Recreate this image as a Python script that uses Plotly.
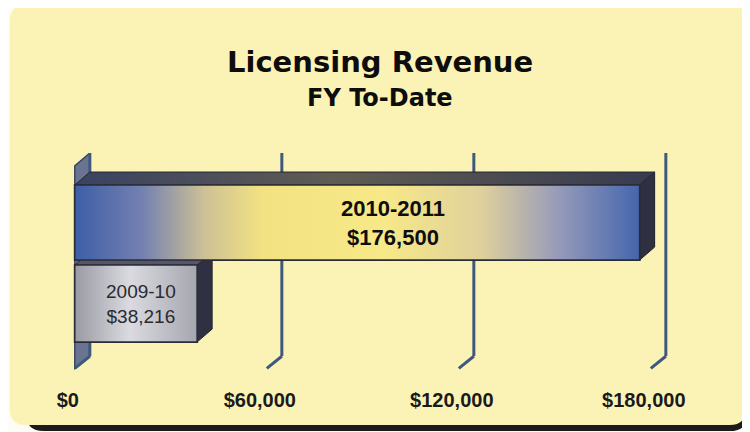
import plotly.graph_objects as go

# ---- data ----
categories = ["2009-10", "2010-2011"]
values = [38216, 176500]
tick_vals = [0, 60000, 120000, 180000]
tick_text = ["$0", "$60,000", "$120,000", "$180,000"]
title_text = "Licensing Revenue"
subtitle_text = "FY To-Date"

# page body has an 8px margin; figure sized to the visible area
OFF = 8
W, H = 742, 424
L_m, R_m, T_m, B_m = 54.2, 47.8, 145, 62
PW, PH = W - L_m - R_m, H - T_m - B_m

bar_widths = [0.95, 0.926]
ypos = [0, 1]
y_range = [-0.82, 1.858]
x_range = [-4000, 196000]
depth_x, depth_y = 4700, 0.16   # 3D projection offsets


def px(xr):  # reference window pixel -> paper
    return (xr - OFF - L_m) / PW


def py(yr):
    return (H - B_m - (yr - OFF)) / PH


fig = go.Figure()

# base bars (data marks)
fig.add_trace(go.Bar(
    y=ypos, x=values, orientation="h", width=bar_widths,
    marker=dict(color=["#b4b4be", "#5a74ad"], line=dict(color="#2b2c36", width=2)),
    hoverinfo="x+text", text=categories, textposition="none", showlegend=False,
))

# 3D side and top faces, derived from values
for i, (v, w, y) in enumerate(zip(values, bar_widths, ypos)):
    y0, y1 = y - w / 2, y + w / 2
    fig.add_trace(go.Scatter(
        x=[v, v + depth_x, v + depth_x, v, v], y=[y0, y0 + depth_y, y1 + depth_y, y1, y0],
        fill="toself", fillcolor="#2f3142", line=dict(color="#1f2029", width=1),
        mode="lines", hoverinfo="skip", showlegend=False))
    top = dict(x=[0, depth_x, v + depth_x, v, 0], y=[y1, y1 + depth_y, y1 + depth_y, y1, y1],
               fill="toself", line=dict(color="#25262f", width=1),
               mode="lines", hoverinfo="skip", showlegend=False)
    if i == 1:
        top["fillgradient"] = dict(type="horizontal",
                                   colorscale=[[0, "#3a4262"], [0.45, "#5f5c52"], [1, "#383b50"]])
    else:
        top["fillcolor"] = "#55566a"
    fig.add_trace(go.Scatter(**top))

# gradient front faces
grad_big = [[0, "#3d5ea8"], [0.12, "#7481b0"], [0.23, "#cdc196"], [0.33, "#f2e282"],
            [0.55, "#f7e888"], [0.72, "#dfd19c"], [0.85, "#9a9db9"], [1, "#4466ad"]]
grad_small = [[0, "#9a9aa4"], [0.45, "#dadae0"], [1, "#a6a6b0"]]
for v, w, y, g in zip(values, bar_widths, ypos, [grad_small, grad_big]):
    y0, y1 = y - w / 2, y + w / 2
    fig.add_trace(go.Scatter(
        x=[0, v, v, 0, 0], y=[y0, y0, y1, y1, y0], fill="toself",
        fillgradient=dict(type="horizontal", colorscale=g),
        line=dict(color="#2b2c36", width=1.5), mode="lines",
        hoverinfo="skip", showlegend=False))

annotations = []
# value labels
label_fonts = [dict(family="Liberation Sans, Arial", size=19, color="#2a2a30"),
               dict(family="Liberation Sans, Arial", size=22, color="#0e0e0e", weight="bold")]
label_shift = [5, 36]
for v, y, c, f, s in zip(values, ypos, categories, label_fonts, label_shift):
    annotations.append(dict(x=v / 2, y=y, xref="x", yref="y", xshift=s,
                            text=f"{c}<br>${v:,}", showarrow=False,
                            font=f, align="center"))

annotations.append(dict(text=f"<b>{title_text}</b>", x=px(380), xref="paper", y=py(62), yref="paper",
                        xanchor="center", yanchor="middle", showarrow=False,
                        font=dict(family="DejaVu Sans", size=29, color="#0d0d0d")))
annotations.append(dict(text=f"<b>{subtitle_text}</b>", x=px(380), xref="paper", y=py(98), yref="paper",
                        xanchor="center", yanchor="middle", showarrow=False,
                        font=dict(family="DejaVu Sans", size=24, color="#0d0d0d")))


def rounded(x0, y0, x1, y1, rr):
    return (f"M {px(x0+rr)},{py(y0)} L {px(x1-rr)},{py(y0)} Q {px(x1)},{py(y0)} {px(x1)},{py(y0+rr)} "
            f"L {px(x1)},{py(y1-rr)} Q {px(x1)},{py(y1)} {px(x1-rr)},{py(y1)} L {px(x0+rr)},{py(y1)} "
            f"Q {px(x0)},{py(y1)} {px(x0)},{py(y1-rr)} L {px(x0)},{py(y0+rr)} Q {px(x0)},{py(y0)} {px(x0+rr)},{py(y0)} Z")


shapes = [
    dict(type="path", xref="paper", yref="paper", path=rounded(26, 385, 748, 431, 18),
         fillcolor="#1b1b1a", line=dict(width=0), layer="below"),
    dict(type="path", xref="paper", yref="paper", path=rounded(10, 5, 746, 425, 16),
         fillcolor="#fbf2b6", line=dict(width=0), layer="below"),
]

grid_bottom, foot_bottom = -0.65, -0.8
# left wall (category axis plane)
shapes.append(dict(type="path", xref="x", yref="y",
                   path=(f"M 0,{foot_bottom} L {depth_x},{grid_bottom} L {depth_x},{y_range[1]} "
                         f"L 0,{y_range[1] - depth_y} Z"),
                   fillcolor="#6a7490", line=dict(color="#3a4660", width=1.5), layer="below"))
# gridlines on the back plane with perspective feet
for tv in tick_vals:
    shapes.append(dict(type="line", xref="x", yref="y", x0=tv + depth_x, x1=tv + depth_x,
                       y0=grid_bottom, y1=y_range[1],
                       line=dict(color="#3d5a7e", width=3), layer="below"))
    shapes.append(dict(type="line", xref="x", yref="y", x0=tv + depth_x, x1=tv, y0=grid_bottom,
                       y1=foot_bottom, line=dict(color="#3d5a7e", width=3), layer="below"))

fig.update_layout(
    width=W, height=H,
    margin=dict(l=L_m, r=R_m, t=T_m, b=B_m, autoexpand=False),
    paper_bgcolor="#fdfcf6",
    plot_bgcolor="rgba(0,0,0,0)",
    barmode="overlay",
    shapes=shapes,
    annotations=annotations,
    xaxis=dict(range=x_range, tickvals=tick_vals, ticktext=tick_text,
               showgrid=False, zeroline=False, automargin=False,
               showline=False, ticks="", ticklabelstandoff=16, ticklabelshift=-7,
               tickfont=dict(family="Liberation Sans, Arial", size=20, color="#1a1a1a", weight="bold"),
               fixedrange=True),
    yaxis=dict(range=y_range, showticklabels=False, showgrid=False, automargin=False,
               zeroline=False, showline=False, fixedrange=True),
)

fig.write_html("out.html")
